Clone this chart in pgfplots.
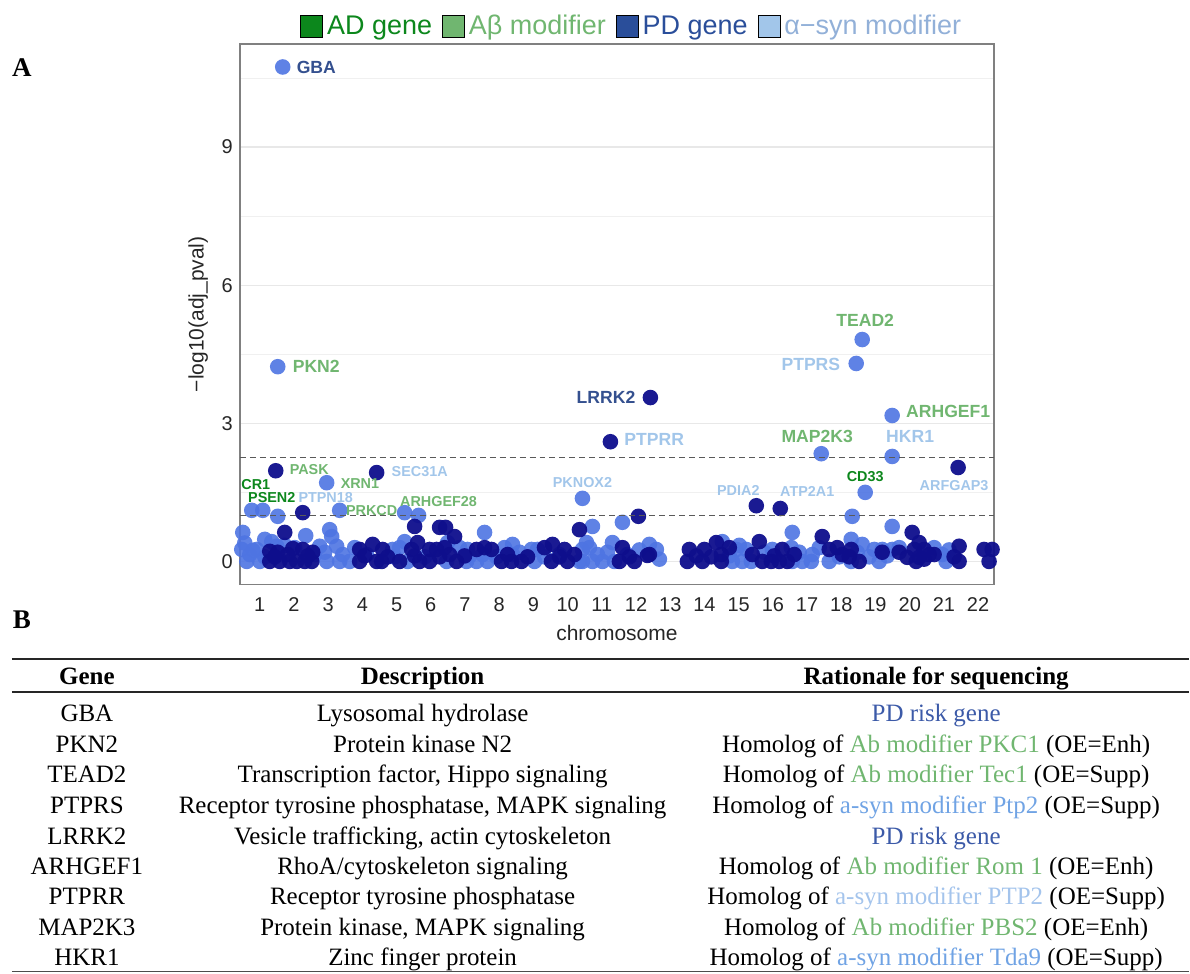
\documentclass[border=0pt]{standalone}
\usepackage{fontspec}
\setmainfont{Liberation Serif}
\newfontfamily\plotfont{Liberation Sans}
\usepackage{pgfplots}
\pgfplotsset{compat=1.18}
\usepackage{pgfplotstable}

\definecolor{navypt}{RGB}{14,14,140}
\definecolor{royalpt}{RGB}{78,116,226}
\definecolor{adgreen}{RGB}{12,135,28}
\definecolor{abgreen}{RGB}{112,182,112}
\definecolor{pdblue}{RGB}{42,78,154}
\definecolor{asynblue}{RGB}{162,198,234}
\definecolor{asyntext}{RGB}{146,176,216}
\definecolor{pdlabel}{RGB}{52,80,143}
\definecolor{tabblue}{RGB}{60,90,168}
\definecolor{tabsyn}{RGB}{112,163,228}
\definecolor{tabsynlight}{RGB}{164,196,236}

% gene-level association scores: cumulative genomic position, -log10(adj p)
\pgfplotstableread{
pos score
283 10.74
278 4.23
863 4.82
857 4.30
893 3.17
822 2.34
893 2.28
327 1.71
866 1.50
583 1.37
252 1.11
263 1.11
278 0.98
340 1.11
405 1.06
419 1.00
243 0.63
306 0.56
330 0.69
332 0.54
485 0.63
593 0.76
623 0.85
853 0.98
893 0.76
793 0.63
852 0.48
242 0.26
247 0.00
257 0.26
260 0.00
272 0.43
277 0.33
320 0.33
327 0.00
337 0.33
343 0.15
340 0.00
350 0.00
367 0.15
253 0.24
265 0.48
393 0.26
405 0.43
448 0.41
468 0.26
513 0.37
513 0.15
532 0.26
538 0.26
583 0.26
408 0.00
447 0.00
467 0.00
477 0.00
488 0.00
535 0.00
580 0.00
587 0.41
598 0.15
613 0.41
628 0.15
650 0.37
657 0.26
723 0.43
737 0.26
747 0.26
773 0.26
583 0.00
593 0.00
603 0.00
733 0.00
743 0.00
752 0.00
792 0.30
813 0.15
863 0.37
875 0.26
883 0.26
893 0.26
943 0.15
793 0.00
803 0.00
812 0.00
830 0.00
852 0.00
880 0.00
947 0.00
250 0.15
265 0.10
285 0.35
295 0.30
315 0.15
325 0.20
355 0.30
395 0.10
400 0.30
425 0.10
460 0.30
470 0.12
483 0.15
497 0.10
505 0.30
520 0.20
545 0.10
560 0.15
590 0.30
608 0.20
615 0.00
640 0.25
660 0.05
730 0.12
740 0.35
765 0.20
800 0.20
820 0.30
840 0.10
858 0.20
870 0.10
888 0.12
900 0.30
935 0.30
950 0.25
245 0.40
}\royaltab

\pgfplotstableread{
pos score
651 3.56
611 2.60
959 2.04
377 1.93
276 1.97
757 1.21
781 1.15
303 1.06
285 0.63
639 0.98
415 0.76
440 0.74
446 0.74
455 0.54
580 0.69
760 0.43
823 0.54
913 0.63
960 0.33
270 0.22
270 0.00
278 0.20
280 0.00
288 0.15
290 0.00
297 0.00
303 0.26
305 0.00
312 0.00
313 0.20
360 0.26
360 0.00
373 0.37
377 0.00
383 0.26
412 0.26
418 0.41
430 0.26
437 0.26
450 0.15
477 0.26
492 0.26
553 0.37
565 0.26
575 0.15
382 0.00
420 0.00
430 0.00
457 0.00
502 0.00
512 0.00
522 0.00
552 0.00
568 0.00
623 0.30
650 0.15
690 0.26
705 0.26
717 0.41
722 0.15
753 0.15
783 0.26
620 0.00
635 0.00
648 0.13
688 0.00
703 0.00
722 0.00
763 0.00
772 0.00
780 0.00
788 0.00
830 0.26
843 0.15
852 0.26
883 0.20
908 0.09
915 0.26
920 0.41
925 0.26
930 0.15
985 0.26
993 0.26
860 0.00
917 0.00
920 0.09
960 0.00
990 0.00
275 0.10
293 0.28
308 0.12
365 0.12
388 0.10
400 0.00
415 0.12
440 0.10
445 0.30
465 0.12
485 0.30
508 0.15
528 0.10
545 0.30
560 0.10
630 0.10
697 0.12
712 0.10
730 0.30
775 0.12
795 0.15
838 0.30
850 0.10
900 0.20
925 0.05
935 0.15
955 0.10
}\navytab

\newcommand{\biglab}{\plotfont\bfseries\fontsize{8.8}{10}\selectfont}
\newcommand{\smalllab}{\plotfont\bfseries\fontsize{7.2}{8.5}\selectfont}

\begin{document}
\begin{tikzpicture}
\begin{scope}[x=0.5pt,y=-0.5pt]
  \useasboundingbox (0,0) rectangle (1190,974);
  % panel letters
  \node[font=\bfseries\fontsize{13.5}{15}\selectfont] at (22,68) {A};
  \node[font=\bfseries\fontsize{13.5}{15}\selectfont] at (22,620) {B};
\end{scope}

\begin{axis}[
  at={(120pt,-292.5pt)}, anchor=south west,
  scale only axis, width=377.5pt, height=270.5pt,
  xmin=240, xmax=995, ymin=-0.5, ymax=11.24,
  xtick={260,294.2,328.5,362.7,397.0,431.2,465.4,499.7,533.9,568.2,602.4,636.6,670.9,705.1,739.4,773.6,807.8,842.1,876.3,910.6,944.8,979.0},
  xticklabels={1,2,3,4,5,6,7,8,9,10,11,12,13,14,15,16,17,18,19,20,21,22},
  ytick={0,3,6,9}, minor ytick={1.5,4.5,7.5,10.5},
  ymajorgrids, yminorgrids,
  major grid style={draw=black!9, line width=0.6pt},
  minor grid style={draw=black!6, line width=0.4pt},
  major tick length=0pt, minor tick length=0pt,
  axis line style={draw=black!50, line width=0.8pt},
  tick label style={font=\plotfont\fontsize{10}{12}\selectfont, text=black!85},
  xticklabel style={yshift=-3pt},
  /pgf/number format/assume math mode=true,
  xlabel={chromosome}, ylabel={−log10(adj\_pval)},
  label style={font=\plotfont\fontsize{10.5}{12}\selectfont, text=black!85},
  clip mode=individual,
  legend style={at={(0.521,1)}, anchor=south, yshift=1pt, draw=none, fill=none,
    legend columns=4, inner sep=0pt,
    font=\plotfont\fontsize{13.5}{15}\selectfont,
    /tikz/every even column/.append style={column sep=3pt}},
  legend image code/.code={\fill[#1] (0pt,-5.5pt) rectangle (11pt,5.5pt);},
]
\addplot[only marks, mark=*, mark size=3.9pt, forget plot, color=royalpt,
  mark options={draw=royalpt, fill=royalpt, draw opacity=0, fill opacity=0.9}] table[x=pos,y=score] {\royaltab};
\addplot[only marks, mark=*, mark size=3.9pt, forget plot, color=navypt,
  mark options={draw=navypt, fill=navypt, draw opacity=0, fill opacity=0.95}] table[x=pos,y=score] {\navytab};

% significance thresholds
\addplot[forget plot, dashed, dash pattern=on 3pt off 2pt, black!65, line width=0.5pt] coordinates {(240,2.26) (995,2.26)};
\addplot[forget plot, dashed, dash pattern=on 3pt off 2pt, black!65, line width=0.5pt] coordinates {(240,1.0) (995,1.0)};

\addlegendimage{fill=adgreen}
\addlegendentry{\textcolor{adgreen}{AD gene}}
\addlegendimage{fill=abgreen}
\addlegendentry{\textcolor{abgreen}{Aβ modifier}}
\addlegendimage{fill=pdblue}
\addlegendentry{\textcolor{pdblue}{PD gene}}
\addlegendimage{fill=asynblue}
\addlegendentry{\textcolor{asyntext}{α−syn modifier}}

% gene labels
\node[anchor=west, font=\biglab, text=pdlabel] at (axis cs:290,10.74) {GBA};
\node[anchor=west, font=\biglab, text=abgreen] at (axis cs:286,4.23) {PKN2};
\node[font=\biglab, text=abgreen] at (axis cs:866,5.23) {TEAD2};
\node[anchor=east, font=\biglab, text=asynblue] at (axis cs:848,4.27) {PTPRS};
\node[anchor=west, font=\biglab, text=abgreen] at (axis cs:900,3.25) {ARHGEF1};
\node[anchor=east, font=\biglab, text=pdlabel] at (axis cs:643,3.56) {LRRK2};
\node[anchor=west, font=\biglab, text=asynblue] at (axis cs:618,2.65) {PTPRR};
\node[font=\biglab, text=abgreen] at (axis cs:818,2.71) {MAP2K3};
\node[font=\biglab, text=asynblue] at (axis cs:911,2.71) {HKR1};
\node[font=\smalllab, text=asynblue] at (axis cs:955,1.65) {ARFGAP3};
\node[font=\smalllab, text=adgreen] at (axis cs:866,1.84) {CD33};
\node[font=\smalllab, text=asynblue] at (axis cs:808,1.52) {ATP2A1};
\node[font=\smalllab, text=asynblue] at (axis cs:739,1.54) {PDIA2};
\node[font=\smalllab, text=asynblue] at (axis cs:583,1.71) {PKNOX2};
\node[anchor=west, font=\smalllab, text=asynblue] at (axis cs:385,1.95) {SEC31A};
\node[anchor=west, font=\smalllab, text=abgreen] at (axis cs:334,1.69) {XRN1};
\node[anchor=west, font=\smalllab, text=abgreen] at (axis cs:283,2.0) {PASK};
\node[font=\smalllab, text=adgreen] at (axis cs:256,1.67) {CR1};
\node[font=\smalllab, text=adgreen] at (axis cs:272,1.39) {PSEN2};
\node[font=\smalllab, text=asynblue] at (axis cs:326,1.39) {PTPN18};
\node[font=\smalllab, text=abgreen] at (axis cs:372,1.11) {PRKCD};
\node[font=\smalllab, text=abgreen] at (axis cs:439,1.30) {ARHGEF28};
\end{axis}

\begin{scope}[x=0.5pt,y=-0.5pt]
  \draw[line width=1.1pt, black!85] (12,660) -- (1190,660);
  \draw[line width=1.1pt, black!85] (12,693) -- (1190,693);
  \draw[line width=0.6pt, black!70] (12,972) -- (1190,972);
  \begin{scope}[every node/.style={anchor=base, inner sep=0pt, font=\fontsize{12.5}{14}\selectfont}]
    \node[font=\bfseries\fontsize{12.5}{14}\selectfont] at (87,685) {Gene};
    \node[font=\bfseries\fontsize{12.5}{14}\selectfont] at (423,685) {Description};
    \node[font=\bfseries\fontsize{12.5}{14}\selectfont] at (937,685) {Rationale for sequencing};

    \node at (87,722) {GBA};
    \node at (87,753) {PKN2};
    \node at (87,783) {TEAD2};
    \node at (87,814) {PTPRS};
    \node at (87,845) {LRRK2};
    \node at (87,875) {ARHGEF1};
    \node at (87,905) {PTPRR};
    \node at (87,936) {MAP2K3};
    \node at (87,966) {HKR1};

    \node at (423,722) {Lysosomal hydrolase};
    \node at (423,753) {Protein kinase N2};
    \node at (423,783) {Transcription factor, Hippo signaling};
    \node at (423,814) {Receptor tyrosine phosphatase, MAPK signaling};
    \node at (423,845) {Vesicle trafficking, actin cytoskeleton};
    \node at (423,875) {RhoA/cytoskeleton signaling};
    \node at (423,905) {Receptor tyrosine phosphatase};
    \node at (423,936) {Protein kinase, MAPK signaling};
    \node at (423,966) {Zinc finger protein};

    \node at (937,722) {\textcolor{tabblue}{PD risk gene}};
    \node at (937,753) {Homolog of \textcolor{abgreen}{Ab modifier PKC1} (OE=Enh)};
    \node at (937,783) {Homolog of \textcolor{abgreen}{Ab modifier Tec1} (OE=Supp)};
    \node at (937,814) {Homolog of \textcolor{tabsyn}{a-syn modifier Ptp2} (OE=Supp)};
    \node at (937,845) {\textcolor{tabblue}{PD risk gene}};
    \node at (937,875) {Homolog of \textcolor{abgreen}{Ab modifier Rom 1} (OE=Enh)};
    \node at (937,905) {Homolog of \textcolor{tabsynlight}{a-syn modifier PTP2} (OE=Supp)};
    \node at (937,936) {Homolog of \textcolor{abgreen}{Ab modifier PBS2} (OE=Enh)};
    \node at (937,966) {Homolog of \textcolor{tabsyn}{a-syn modifier Tda9} (OE=Supp)};
  \end{scope}
\end{scope}
\end{tikzpicture}
\end{document}
